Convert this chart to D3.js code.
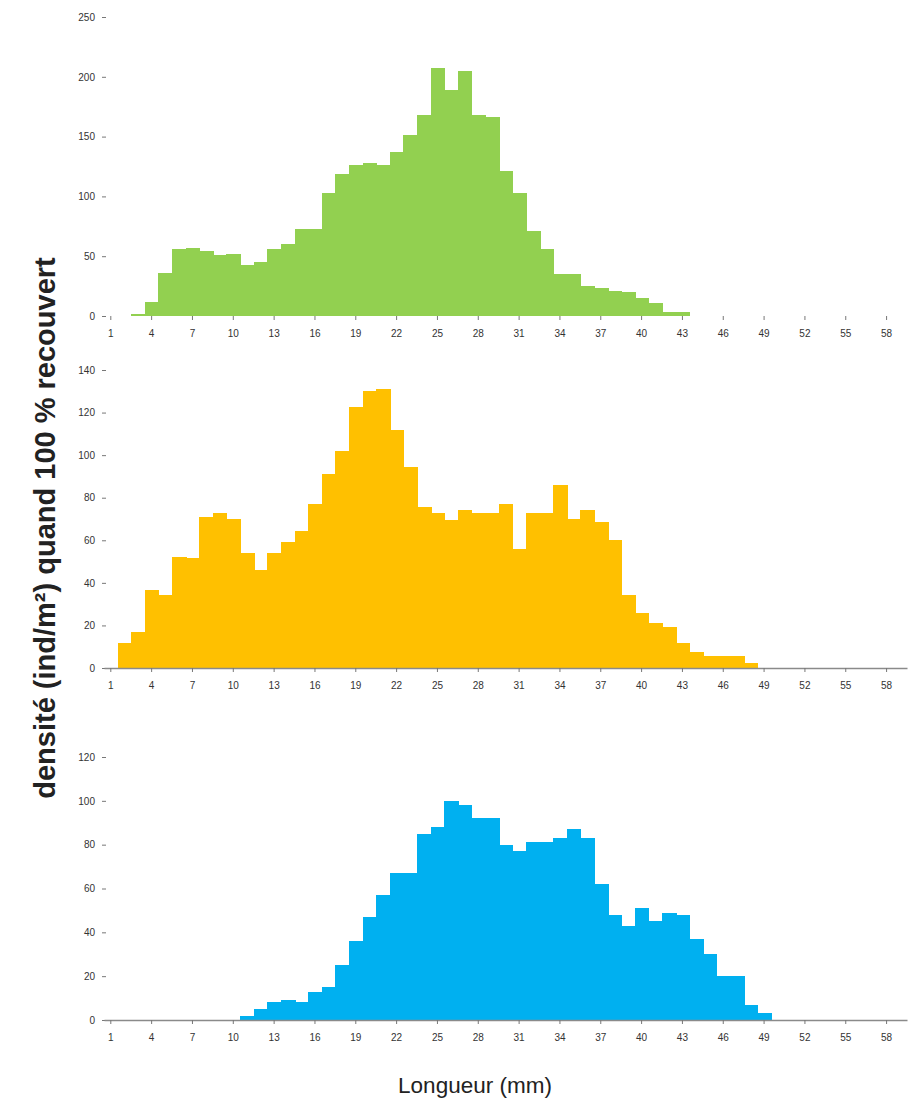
<html>
<head>
<meta charset="utf-8">
<script src="https://cdn.jsdelivr.net/npm/d3@7"></script>
<style>
  body { margin: 0; background: #fff; }
  svg { display: block; font-family: "Liberation Sans", Arial, sans-serif; }
</style>
</head>
<body>
<script>
// length classes (mm)
const lengths = [1,2,3,4,5,6,7,8,9,10,11,12,13,14,15,16,17,18,19,20,
                 21,22,23,24,25,26,27,28,29,30,31,32,33,34,35,36,37,38,39,40,
                 41,42,43,44,45,46,47,48,49,50,51,52,53,54,55,56,57,58,59];
const xLabels = [1,4,7,10,13,16,19,22,25,28,31,34,37,40,43,46,49,52,55,58];

// density per class, one array per panel
const greenVals = [0,0,2,12,36,56,57,54,51,52,43,45,56,60,73,73,103,119,126,128,
                   126,137,151,168,207,189,205,168,166,121,103,71,56,35,35,25,23,21,20,15,
                   11,3,3,0,0,0,0,0,0,0,0,0,0,0,0,0,0,0,0];
const yellowVals = [0,11.6,17,36.6,34.3,52.3,51.5,71,73,70,54,46,54,59,64.5,77,91,102,122.5,130,
                    131,112,94.5,75.5,73,69.5,74,73,73,77,56,73,73,86,70,74,68.7,60,34.3,25.7,
                    21.3,19.4,11.9,7.7,5.6,5.6,5.6,2.2,0,0,0,0,0,0,0,0,0,0,0];
const blueVals = [0,0,0,0,0,0,0,0,0,0,2,5,8,9,8,13,15,25,36,47,
                  57,67,67,85,88,100,98,92,92,80,77,81,81,83,87,83,62,48,43,51,
                  45,49,48,37,30,20,20,7,3,0,0,0,0,0,0,0,0,0,0];

const greenTicks = [0,50,100,150,200,250];
const yellowTicks = [0,20,40,60,80,100,120,140];
const blueTicks = [0,20,40,60,80,100,120];

const W = 912, H = 1106;
const svg = d3.select("body").append("svg").attr("width", W).attr("height", H);

const x = d3.scaleBand().domain(lengths).range([104, 907]).padding(0);

const panels = [
  {vals: greenVals,  ticks: greenTicks,  max: 250, top: 17,  base: 316,  color: "#92d050", line: false},
  {vals: yellowVals, ticks: yellowTicks, max: 140, top: 370, base: 668,  color: "#ffc000", line: true},
  {vals: blueVals,   ticks: blueTicks,   max: 120, top: 757, base: 1020, color: "#00b0f0", line: true}
];

panels.forEach(function(p) {
  let y = d3.scaleLinear().domain([0, p.max]).range([p.base, p.top]);
  let g = svg.append("g");

  // bars
  g.selectAll("rect")
    .data(lengths.map(function(l, i) { return {l: l, v: p.vals[i]}; }).filter(function(d) { return d.v > 0; }))
    .enter()
    .append("rect")
    .attr("x", function(d) { return x(d.l); })
    .attr("y", function(d) { return y(d.v); })
    .attr("width", x.bandwidth() + 1)
    .attr("height", function(d) { return p.base - y(d.v); })
    .attr("fill", p.color)
    .attr("shape-rendering", "crispEdges");

  // y axis (no spine, small dashes)
  let yAxis = g.append("g")
    .attr("transform", "translate(106,0)")
    .call(d3.axisLeft(y).tickValues(p.ticks).tickSize(4).tickPadding(7));
  yAxis.select(".domain").remove();
  yAxis.selectAll(".tick line").attr("stroke", "#777");
  yAxis.selectAll("text").attr("fill", "#333").style("font-size", "10px");

  // x axis
  let xAxis = g.append("g")
    .attr("transform", "translate(0," + p.base + ")")
    .call(d3.axisBottom(x).tickValues(xLabels).tickSize(4).tickPadding(10).tickSizeOuter(0));
  xAxis.select(".domain").attr("stroke", p.line ? "#8a8a8a" : "none").attr("stroke-width", 1.5);
  xAxis.selectAll(".tick line").attr("stroke", "#777");
  xAxis.selectAll("text").attr("fill", "#333").style("font-size", "10px");
});

// axis titles
svg.append("text")
  .attr("transform", "translate(55,528) rotate(-90)")
  .attr("text-anchor", "middle")
  .style("font-size", "29px")
  .style("font-weight", "bold")
  .attr("fill", "#222")
  .text("densité (ind/m²) quand 100 % recouvert");

svg.append("text")
  .attr("x", 475)
  .attr("y", 1093)
  .attr("text-anchor", "middle")
  .style("font-size", "22.5px")
  .attr("fill", "#222")
  .text("Longueur (mm)");
</script>
</body>
</html>
